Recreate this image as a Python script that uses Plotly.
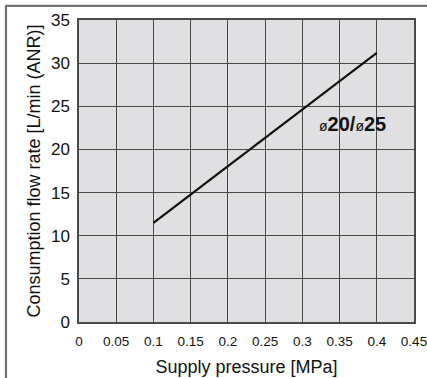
import plotly.graph_objects as go

# Consumption flow rate vs supply pressure
pressure = [0.1, 0.4]
flow_rate = [11.5, 31.2]
x_ticks = [0, 0.05, 0.1, 0.15, 0.2, 0.25, 0.3, 0.35, 0.4, 0.45]
x_labels = ["0", "0.05", "0.1", "0.15", "0.2", "0.25", "0.3", "0.35", "0.4", "0.45"]
y_ticks = [0, 5, 10, 15, 20, 25, 30, 35]

grid_col = "#4a4a4a"
font_fam = "Liberation Sans, Arial"

fig = go.Figure()
fig.add_trace(go.Scatter(x=pressure, y=flow_rate, mode="lines",
                         line=dict(color="#111111", width=2.2),
                         showlegend=False, hoverinfo="skip"))

fig.add_annotation(x=0.367, y=22.9, xref="x", yref="y", showarrow=False,
                   text="<span style='font-size:14px'>ø</span><b>20/</b>"
                        "<span style='font-size:14px'>ø</span><b>25</b>",
                   font=dict(family=font_fam, size=20, color="#111111"),
                   xanchor="center", yanchor="middle")

# outer frame (only the top and left edges fall inside the picture)
fig.add_shape(type="rect", xref="paper", yref="paper",
              x0=-0.218, x1=1.2, y0=-0.4, y1=1.047,
              line=dict(color="#707070", width=2.2), fillcolor="rgba(0,0,0,0)")

fig.update_xaxes(range=[0, 0.45], tickvals=x_ticks, ticktext=x_labels,
                 showgrid=True, gridcolor=grid_col, gridwidth=1.3,
                 showline=True, linecolor=grid_col, linewidth=1.5, mirror=True,
                 zeroline=False, ticks="", ticklen=0, automargin=False,
                 ticklabelstandoff=6, ticklabeloverflow="allow",
                 tickfont=dict(family=font_fam, size=13.5, color="#111111"),
                 title=dict(text="Supply pressure [MPa]", standoff=12,
                            font=dict(family=font_fam, size=18, color="#111111")))
fig.update_yaxes(range=[0, 35], tickvals=y_ticks,
                 showgrid=True, gridcolor=grid_col, gridwidth=1.3,
                 showline=True, linecolor=grid_col, linewidth=1.5, mirror=True,
                 zeroline=False, ticks="", ticklen=0, automargin=False,
                 ticklabelstandoff=4,
                 tickfont=dict(family=font_fam, size=17, color="#111111"),
                 title=dict(text="Consumption flow rate [L/min (ANR)]", standoff=6,
                            font=dict(family=font_fam, size=18, color="#111111")))

fig.update_layout(width=427, height=378,
                  margin=dict(l=79, r=13, t=20, b=56),
                  plot_bgcolor="#e0e0e2", paper_bgcolor="white")

fig.write_html("out.html", config={"displayModeBar": False},
               post_script="document.body.style.margin='0';")
